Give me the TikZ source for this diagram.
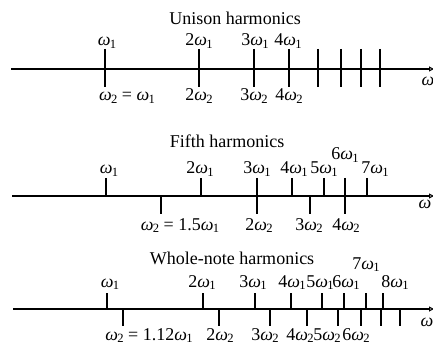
\documentclass[tikz,border=0pt]{standalone}
\usepackage{fontspec}
\setmainfont{Liberation Serif}
\usetikzlibrary{arrows.meta}
\newcommand{\wsub}[1]{\textit{ω}\kern-0.6pt\raisebox{-0.16em}{\fontsize{12.6}{13}\selectfont #1}}
\newcommand{\wbare}{\textit{ω}}
\tikzset{
  axisline/.style={line width=1.3pt,-{Triangle[open,length=5pt,width=5pt,line width=1pt]}},
  tk/.style={line width=1.5pt},
  lbl/.style={anchor=base,inner sep=0pt,font=\fontsize{18}{20}\selectfont},
  ttl/.style={anchor=base,inner sep=0pt,font=\fontsize{18}{20}\selectfont},
}
\begin{document}
\begin{tikzpicture}[x=1pt,y=-1pt]
\useasboundingbox (0,0) rectangle (433,347);
% ---------- Panel 1: Unison ----------
\node[ttl] (t1) at (235,25) {Unison harmonics};
\coordinate (a1s) at (11,69);
\coordinate (a1e) at (434,69);
\draw[axisline] (a1s) -- (a1e);
\foreach \x in {105,199,254,289,318,341,361,380}
  \draw[tk] (\x,49) -- (\x,87);
\node[lbl] (u1) at (107,46) {\wsub{1}};
\node[lbl] (u2) at (199,46) {2\wsub{1}};
\node[lbl] (u3) at (255,46) {3\wsub{1}};
\node[lbl] (u4) at (288,46) {4\wsub{1}};
\node[lbl] (v1) at (127,101) {\wsub{2} = \wsub{1}};
\node[lbl] (v2) at (199,101) {2\wsub{2}};
\node[lbl] (v3) at (254,101) {3\wsub{2}};
\node[lbl] (v4) at (289,101) {4\wsub{2}};
\node[lbl] (w1) at (428,86) {\wbare};
% ---------- Panel 2: Fifth ----------
\node[ttl] (t2) at (227,148) {Fifth harmonics};
\coordinate (a2s) at (12,196);
\coordinate (a2e) at (434,196);
\draw[axisline] (a2s) -- (a2e);
\foreach \x in {106,201,292,324,367}
  \draw[tk] (\x,178) -- (\x,196);
\foreach \x in {257,345}
  \draw[tk] (\x,178) -- (\x,214);
\foreach \x in {161,310}
  \draw[tk] (\x,196) -- (\x,214);
\node[lbl] (f1) at (109,174) {\wsub{1}};
\node[lbl] (f2) at (200,174) {2\wsub{1}};
\node[lbl] (f3) at (257,174) {3\wsub{1}};
\node[lbl] (f4) at (294,174) {4\wsub{1}};
\node[lbl] (f5) at (324,174) {5\wsub{1}};
\node[lbl] (f6) at (345,160) {6\wsub{1}};
\node[lbl] (f7) at (375,174) {7\wsub{1}};
\node[lbl] (g1) at (180,230) {\wsub{2} = 1.5\wsub{1}};
\node[lbl] (g2) at (259,230) {2\wsub{2}};
\node[lbl] (g3) at (309,230) {3\wsub{2}};
\node[lbl] (g4) at (346,230) {4\wsub{2}};
\node[lbl] (w2) at (425,209) {\wbare};
% ---------- Panel 3: Whole-note ----------
\node[ttl] (t3) at (232,264) {Whole-note harmonics};
\coordinate (a3s) at (13,309);
\coordinate (a3e) at (434,309);
\draw[axisline] (a3s) -- (a3e);
\foreach \x in {107,203,255,291,322,344,366}
  \draw[tk] (\x,293) -- (\x,309);
\draw[tk] (383,293) -- (383,309);
\draw[tk] (381,309) -- (381,326);
\foreach \x in {123,219,270,307,338,361,400}
  \draw[tk] (\x,309) -- (\x,326);
\node[lbl] (h1) at (110,287) {\wsub{1}};
\node[lbl] (h2) at (202,287) {2\wsub{1}};
\node[lbl] (h3) at (253,287) {3\wsub{1}};
\node[lbl] (h4) at (292,287) {4\wsub{1}};
\node[lbl] (h5) at (320,287) {5\wsub{1}};
\node[lbl] (h6) at (346,287) {6\wsub{1}};
\node[lbl] (h7) at (366,269) {7\wsub{1}};
\node[lbl] (h8) at (395,287) {8\wsub{1}};
\node[lbl] (k1) at (149,340) {\wsub{2} = 1.12\wsub{1}};
\node[lbl] (k2) at (220,340) {2\wsub{2}};
\node[lbl] (k3) at (265,340) {3\wsub{2}};
\node[lbl] (k4) at (300,340) {4\wsub{2}};
\node[lbl] (k5) at (327,340) {5\wsub{2}};
\node[lbl] (k6) at (356,340) {6\wsub{2}};
\node[lbl] (w3) at (427,326) {\wbare};
\end{tikzpicture}
\end{document}
